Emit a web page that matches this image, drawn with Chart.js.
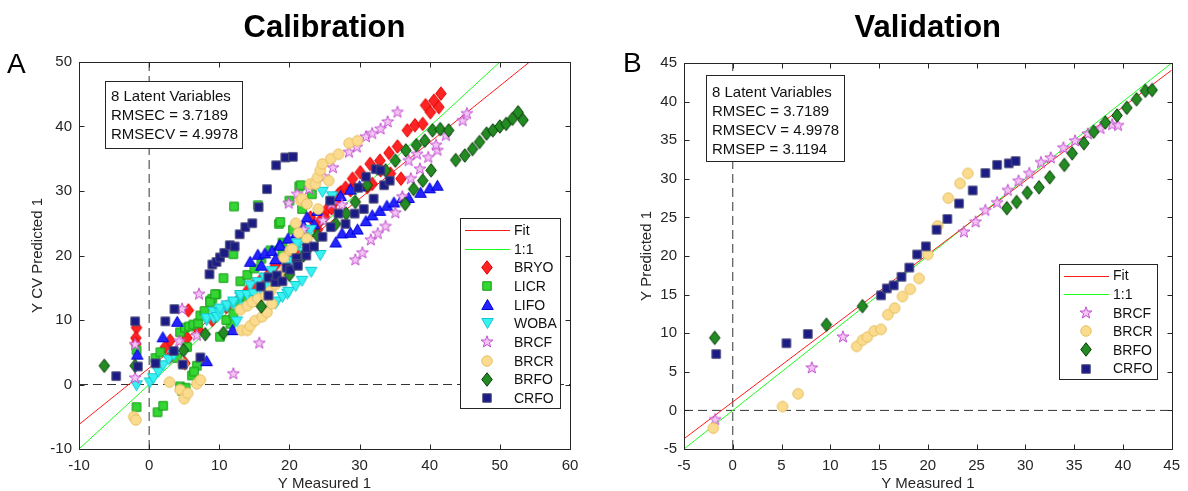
<!DOCTYPE html>
<html>
<head>
<meta charset="utf-8">
<script src="https://cdn.jsdelivr.net/npm/chart.js@4.4.0/dist/chart.umd.min.js"></script>
<style>
  html, body { margin: 0; padding: 0; background: #fff; overflow: hidden; }
  .panel { position: absolute; top: 0; width: 594px; height: 491px; }
  #panelA { left: 0; }
  #panelB { left: 594px; }
</style>
</head>
<body>
<div class="panel" id="panelA"><canvas id="calChart" width="594" height="491"></canvas></div>
<div class="panel" id="panelB"><canvas id="valChart" width="594" height="491"></canvas></div>
<script>
// ---- data: [measured, predicted] ----
const calBRYO = [[-1.8,8.8],[-1.9,7.2],[-1.9,6.3],[2.3,5.8],[3.0,6.8],[3.0,4.3],[5.6,11.5],[5.4,7.2],[5.1,3.3],
  [7,8.5],[9,10],[11,12],[13,13.5],[14,14.5],[15,15.5],[16,16.3],[17,17],[18,18.5],[19,19.5],[20,20.5],[21,21],
  [22,22.5],[23,25.9],[24,24],[24.4,25.4],[25,26],[25.4,27.2],[26,27.3],[26.6,28.5],[27.0,29.5],[27.3,29.8],[28,30.5],
  [28.7,30.1],[29.0,30.6],[29.0,31.9],[30.1,32.9],[31.1,30.6],[31.5,34.2],[31.8,31.1],[32.9,34.7],[33.0,33.2],
  [34.2,35.9],[34.4,32.7],[35.4,36.9],[35.9,31.9],[36.8,39.4],[37.9,40.2],[39.0,40.4],[39.4,43.3],[40.1,42.2],
  [40.6,44.0],[41.3,43.0],[41.6,45.1]];
const calLICR = [[-1.8,-3.5],[1.2,-4.3],[2.0,-3.3],[0.9,4.1],[1.6,5.0],[-1.8,5.3],[4.4,8.1],[5.1,8.8],[5.7,9.0],
  [6.3,9.3],[7.0,9.5],[7.3,10.7],[7.9,11.4],[8.7,13.0],[9.6,14.0],[10.6,16.5],[12.0,20.2],[5.4,5.8],[4.0,4.1],
  [6.8,2.9],[6.1,1.4],[6.4,2.0],[4.4,-0.3],[4.7,-1.0],[5.2,-0.5],[11.6,9.4],[10.1,7.4],[9.0,13.3],[8.7,12.8],
  [9.4,14.0],[12.1,27.6],[15.5,27.8],[18.5,24.9],[17.3,20.8],[19.0,20.5],[21.4,30.7],[20.5,24.0],[21.6,30.9],
  [23.2,29.5],[21.8,27.2],[20.0,28.5],[18.7,25.2],[13,16],[14,17],[15,18],[16,19.5],[11,10],[12,11],[13,12.5],
  [14,13],[19,22],[22,23]];
const calLIFO = [[-1.7,4.7],[1.95,7.4],[4.0,9.8],[8.2,3.7],[11.9,8.5],[14.4,19.1],[15.5,20.2],[16.5,20.4],
  [17.5,20.8],[18.6,21.7],[19.8,22.7],[21,23.5],[22.0,24.7],[23.5,24.9],[18.7,21.6],[26.6,22.1],[27.5,23.5],
  [28.7,23.6],[29.7,24.1],[30.9,25.4],[31.8,26.3],[32.9,27.0],[33.9,27.8],[34.9,28.3],[36.1,29.0],[37.0,29.0],
  [38.7,29.8],[40.0,30.5],[41.1,30.9],[27.3,29.3],[28.7,30.3],[30,30.8],[22.5,26],[24,27],[20,20.5],[16,18.5],[18,19.5]];
const calWOBA = [[-1.8,-0.2],[0.1,0.25],[0.6,0.9],[1.3,1.9],[2.0,2.9],[2.8,3.8],[3.5,4.5],[8.2,9.9],[8.2,10.2],
  [9.2,10.2],[9.2,11.2],[9.7,10.4],[10.1,11.0],[10.1,11.7],[11.1,12.0],[11.1,12.2],[12.0,12.5],[12.0,12.8],
  [12.5,9.7],[13.0,13.5],[13.0,13.8],[14.0,13.8],[14.4,15.3],[14.9,14.0],[15.5,15.8],[16.5,16.5],[17.5,17.5],
  [18.0,12.5],[18.2,12.8],[19.0,13.5],[19.7,14.0],[19.7,18.2],[19.9,14.3],[20.9,15.2],[21.8,16.0],[23.1,17.4],
  [24.4,20.0],[21.3,21.6],[21.1,21.8],[23.0,23.9],[24.7,29.8],[26.1,29.1],[20.5,19],[22,20.5],[16,14.5],[17,15],
  [15,13],[13.5,12]];
const calBRCF = [[-2.0,6.2],[-2.0,1.0],[4.7,11.7],[4.3,6.7],[6.8,7.6],[7.1,14.0],[12.0,1.65],[15.7,6.4],
  [19.9,28.1],[21.1,29.5],[22.8,30.3],[24.9,32.2],[26.2,33.6],[28.5,36.0],[29.6,36.8],[30.9,38.4],[31.8,38.9],
  [33.0,39.6],[34.0,40.7],[35.4,42.2],[24.8,25.4],[27.5,27.8],[29.4,19.3],[30.4,20.4],[31.6,22.4],[32.6,23.4],
  [33.7,24.5],[35.1,26.6],[36.1,29.1],[37.3,31.9],[38.6,33.4],[37.0,34.7],[38.2,35.7],[39.8,35.2],[41.1,36.3],
  [40.9,37.1],[42.3,38.6],[44.7,40.9],[45.3,42.0],[22,24],[26,28]];
const calBRCR = [[-2.2,-5.0],[-1.9,-5.5],[2.9,0.36],[4.4,-0.8],[5.0,-2.2],[5.5,-1.35],[4.8,3.2],[6.8,0.1],
  [7.3,0.7],[13.0,11.6],[14.0,12.2],[14.7,12.8],[15.5,13.3],[16.6,13.8],[13.2,8.4],[14.0,8.4],[14.4,9.1],
  [15.1,9.9],[16.1,10.5],[16.8,11.2],[17.3,14.5],[18,15.5],[19.4,17.7],[19.2,19.7],[20.1,20.8],[20.4,21.0],
  [20.9,25.0],[21.3,23.5],[22.5,22.6],[21.6,28.5],[21.8,28.8],[22.5,28.0],[23.0,31.1],[23.7,31.1],[24.0,32.1],
  [24.1,27.2],[24.4,33.2],[24.7,34.2],[25.6,31.6],[25.9,35.0],[27.0,35.7],[28.5,37.4],[29.7,37.8],[18.5,16.5],[17.5,12.5]];
const calBRFO = [[-6.4,2.9],[-2.0,2.9],[4.9,5.3],[8.0,7.8],[10.6,8.0],[16.0,12.1],[24.0,23.1],[26.6,24.9],
  [28.1,26.5],[29.4,28.3],[31.1,30.9],[33.7,33.2],[35.1,34.7],[36.6,36.3],[38.1,37.1],[39.3,37.8],[40.4,39.4],
  [41.5,39.6],[42.7,39.4],[36.5,28.0],[37.7,30.3],[39.0,31.6],[40.2,33.2],[43.7,34.8],[45.0,35.5],[46.1,36.5],
  [47.1,37.6],[48.1,38.9],[49.0,39.4],[50.0,40.0],[50.9,40.4],[51.8,41.2],[52.6,42.2],[53.3,41.0],[20,17],[22,20]];
const calCRFO = [[-2.0,9.8],[-4.7,1.3],[-1.6,2.8],[0.9,3.3],[2.3,9.8],[3.6,11.7],[3.5,5.2],[4.8,3.1],[7.3,4.2],
  [8.6,17.1],[9.0,18.6],[9.6,19.0],[10.1,19.7],[10.7,20.4],[11.5,21.6],[12.2,21.4],[12.9,23.3],[13.7,24.4],
  [14.7,25.0],[15.6,27.5],[16.8,30.3],[18.1,34.0],[19.4,35.2],[20.5,35.3],[15.9,15.2],[17.0,16.6],[17.0,13.8],
  [18.0,15.9],[18.2,16.9],[19.0,16.0],[19.6,18.1],[20.1,17.8],[21.0,19.6],[21.1,18.7],[21.2,18.4],[22.4,20.0],
  [22.5,21.2],[23.5,21.4],[24.7,22.9],[25.9,24.4],[25.8,28.5],[27.0,26.5],[28.0,24.9],[29.3,26.5],[29.8,30.5],
  [30.6,27.2],[30.9,32.2],[32.0,28.8],[32.3,33.4],[33.0,33.2],[33.5,30.9],[34.3,31.6]];

const valBRCF = [[-1.8,-1.2],[8.1,5.5],[11.3,9.5],[23.7,23.1],[24.9,24.4],[25.9,25.9],[27.1,26.9],[28.2,28.5],
  [29.3,29.7],[30.4,30.7],[31.6,32.1],[32.6,32.7],[33.9,34.0],[35.1,34.9],[36.4,35.8],[37.7,36.5],[38.9,37.0],[39.5,36.9]];
const valBRCR = [[-2.0,-2.3],[5.1,0.5],[6.7,2.15],[12.7,8.3],[13.3,9.1],[13.8,9.5],[14.5,10.3],[15.2,10.5],
  [15.9,12.4],[16.6,13.25],[17.4,14.75],[18.2,15.7],[19.1,17.1],[20.0,20.2],[21.0,23.9],[22.1,27.5],[23.3,29.4],[24.1,30.7]];
const valBRFO = [[-1.85,9.4],[9.6,11.1],[13.3,13.5],[28.1,26.2],[29.1,27.0],[30.2,28.2],[31.4,28.9],[32.5,30.2],
  [34.0,31.8],[34.8,33.3],[36.0,34.6],[37.0,36.1],[38.2,37.3],[39.4,38.2],[40.4,39.2],[41.4,40.3],[42.3,41.4],[43.0,41.5]];
const valCRFO = [[-1.7,7.3],[5.5,8.7],[7.7,9.9],[15.2,14.9],[15.8,15.8],[16.5,16.2],[17.3,17.3],[18.1,18.5],
  [18.9,20.2],[19.8,21.25],[20.9,23.4],[22.0,24.8],[23.2,26.8],[24.6,28.5],[25.9,30.75],[27.1,31.8],[28.3,32.0],[29.0,32.3]];

const calXTicks = [-10, 0, 10, 20, 30, 40, 50, 60];
const calYTicks = [-10, 0, 10, 20, 30, 40, 50];
const valXTicks = [-5, 0, 5, 10, 15, 20, 25, 30, 35, 40, 45];
const valYTicks = [-5, 0, 5, 10, 15, 20, 25, 30, 35, 40, 45];

const calFit = [0.875, 2.55];   // slope, intercept
const valFit = [0.955, 1.1];
const calStats = ['8 Latent Variables', 'RMSEC = 3.7189', 'RMSECV = 4.9978'];
const valStats = ['8 Latent Variables', 'RMSEC = 3.7189', 'RMSECV = 4.9978', 'RMSEP = 3.1194'];

// ---- styling ----
const FONT = '"Liberation Sans", Arial, Helvetica, sans-serif';
const INK = '#262626';
Chart.defaults.font.family = FONT;
Chart.defaults.color = INK;

const markerLook = {
  BRYO: { shape: 'diamond', fill: '#ff2424', stroke: '#e00000' },
  LICR: { shape: 'square', fill: '#33d633', stroke: '#169a16' },
  LIFO: { shape: 'triUp', fill: '#2424ff', stroke: '#0000d8' },
  WOBA: { shape: 'triDown', fill: '#38f2f2', stroke: '#10c8d0' },
  BRCF: { shape: 'star', fill: '#f4c4f4', stroke: '#c24fd0' },
  BRCR: { shape: 'circle', fill: '#fbdc8e', stroke: '#e6bf62' },
  BRFO: { shape: 'diamond', fill: '#228b22', stroke: '#0b3a0b' },
  CRFO: { shape: 'square', fill: '#1b1b86', stroke: '#4c4c78' }
};

function makeMarker(look) {
  const sizes = { diamond: [10.5, 13.5], square: [8.5, 8.5], triUp: [11.5, 10], triDown: [11.5, 10], circle: [10.5, 10.5], star: [12.5, 12.5] };
  const [w, h] = sizes[look.shape];
  const c = document.createElement('canvas');
  c.width = Math.ceil(w) + 3; c.height = Math.ceil(h) + 3;
  const g = c.getContext('2d');
  const cx = c.width / 2, cy = c.height / 2;
  g.beginPath();
  if (look.shape === 'diamond') {
    g.moveTo(cx, cy - h / 2); g.lineTo(cx + w / 2, cy); g.lineTo(cx, cy + h / 2); g.lineTo(cx - w / 2, cy);
  } else if (look.shape === 'square') {
    g.rect(cx - w / 2, cy - h / 2, w, h);
  } else if (look.shape === 'triUp') {
    g.moveTo(cx, cy - h / 2); g.lineTo(cx + w / 2, cy + h / 2); g.lineTo(cx - w / 2, cy + h / 2);
  } else if (look.shape === 'triDown') {
    g.moveTo(cx, cy + h / 2); g.lineTo(cx + w / 2, cy - h / 2); g.lineTo(cx - w / 2, cy - h / 2);
  } else if (look.shape === 'circle') {
    g.arc(cx, cy, w / 2, 0, Math.PI * 2);
  } else {
    for (let i = 0; i < 10; i++) {
      const r = i % 2 ? w * 0.2 : w / 2;
      const a = -Math.PI / 2 + i * Math.PI / 5;
      g.lineTo(cx + r * Math.cos(a), cy + r * Math.sin(a));
    }
  }
  g.closePath();
  g.fillStyle = look.fill; g.fill();
  g.lineWidth = 1; g.strokeStyle = look.stroke; g.stroke();
  return c;
}

const markers = {};
Object.keys(markerLook).forEach(k => { markers[k] = makeMarker(markerLook[k]); });

function pointSet(name, arr, order) {
  return {
    label: name,
    data: arr.map(p => ({ x: p[0], y: p[1] })),
    pointStyle: markers[name],
    pointRadius: 5,
    pointHoverRadius: 5,
    showLine: false,
    order: order
  };
}

function lineSet(label, data, color, dash) {
  return {
    label, data, showLine: true, borderColor: color, borderWidth: 1,
    borderDash: dash || [], pointRadius: 0, pointHoverRadius: 0, fill: false, order: 30
  };
}

// frame, inward ticks, title, stats box and legend
const panelPlugin = {
  id: 'panel',
  afterDraw(chart, args, o) {
    const { ctx, chartArea: a, scales } = chart;
    const L = Math.round(a.left) + 0.5, R = Math.round(a.right) + 0.5;
    const T = Math.round(a.top) + 0.5, B = Math.round(a.bottom) + 0.5;
    ctx.save();
    ctx.strokeStyle = INK; ctx.lineWidth = 1; ctx.setLineDash([]);
    ctx.strokeRect(L, T, R - L, B - T);
    ctx.beginPath();
    scales.x.ticks.forEach(t => {
      const px = Math.round(scales.x.getPixelForValue(t.value)) + 0.5;
      ctx.moveTo(px, B); ctx.lineTo(px, B - 5);
      ctx.moveTo(px, T); ctx.lineTo(px, T + 5);
    });
    scales.y.ticks.forEach(t => {
      const py = Math.round(scales.y.getPixelForValue(t.value)) + 0.5;
      ctx.moveTo(L, py); ctx.lineTo(L + 5, py);
      ctx.moveTo(R, py); ctx.lineTo(R - 5, py);
    });
    ctx.stroke();

    ctx.fillStyle = '#000';
    ctx.textBaseline = 'alphabetic';
    ctx.textAlign = 'center';
    ctx.font = 'bold 31px ' + FONT;
    ctx.fillText(o.title, (a.left + a.right) / 2, o.titleY);
    ctx.textAlign = 'left';
    ctx.font = '28px ' + FONT;
    ctx.fillText(o.letter, o.letterX, o.letterY);

    // stats box
    const s = o.statsBox;
    ctx.fillStyle = '#fff';
    ctx.fillRect(s.x, s.y, s.w, s.h);
    ctx.strokeStyle = INK;
    ctx.strokeRect(s.x + 0.5, s.y + 0.5, s.w, s.h);
    ctx.fillStyle = '#111';
    ctx.font = '15px ' + FONT;
    o.stats.forEach((line, i) => ctx.fillText(line, s.x + 6, s.firstBase + i * 19.2));

    // legend
    const g = o.legend;
    ctx.fillStyle = '#fff';
    ctx.fillRect(g.x, g.y, g.w, g.h);
    ctx.strokeRect(g.x + 0.5, g.y + 0.5, g.w, g.h);
    ctx.font = '14px ' + FONT;
    ctx.textBaseline = 'middle';
    g.items.forEach((it, i) => {
      const yy = g.firstY + i * g.step;
      if (it.color) {
        ctx.strokeStyle = it.color;
        ctx.beginPath();
        ctx.moveTo(g.x + 5, Math.round(yy) + 0.5); ctx.lineTo(g.x + 50, Math.round(yy) + 0.5);
        ctx.stroke();
      } else {
        const m = markers[it.name];
        ctx.drawImage(m, Math.round(g.x + 27 - m.width / 2), Math.round(yy - m.height / 2));
      }
      ctx.fillStyle = '#111';
      ctx.fillText(it.name, g.x + 54, yy + 1);
    });
    ctx.restore();
  }
};

function axis(ticks, title, size, titlePad, isX) {
  const cfg = {
    type: 'linear',
    min: ticks[0],
    max: ticks[ticks.length - 1],
    afterBuildTicks: sc => { sc.ticks = ticks.map(v => ({ value: v })); },
    ticks: { color: INK, padding: isX ? 8 : 7, font: { size: 15 } },
    grid: { display: false, drawTicks: false },
    border: { display: false },
    title: { display: true, text: title, color: INK, font: { size: 15, lineHeight: 1 }, padding: titlePad }
  };
  cfg.afterFit = isX ? (sc => { sc.height = 42; }) : (sc => { sc.width = size; });
  return cfg;
}

function buildPanel(id, opts) {
  const xs = opts.xTicks, ys = opts.yTicks;
  const x0 = xs[0], x1 = xs[xs.length - 1], y0 = ys[0], y1 = ys[ys.length - 1];
  const fit = opts.fit;
  const datasets = opts.series.map((s, i) => pointSet(s[0], s[1], opts.series.length - i));
  datasets.push(lineSet('Fit', [{ x: x0, y: fit[0] * x0 + fit[1] }, { x: x1, y: fit[0] * x1 + fit[1] }], '#ff1a1a'));
  datasets.push(lineSet('1:1', [{ x: x0, y: x0 }, { x: x1, y: x1 }], '#1aff1a'));
  datasets.push(lineSet('zx', [{ x: 0, y: y0 }, { x: 0, y: y1 }], '#333', [9, 5]));
  datasets.push(lineSet('zy', [{ x: x0, y: 0 }, { x: x1, y: 0 }], '#333', [9, 5]));

  return new Chart(document.getElementById(id), {
    type: 'scatter',
    data: { datasets },
    plugins: [panelPlugin],
    options: {
      responsive: false,
      animation: false,
      events: [],
      layout: { padding: { left: 0, top: opts.top, right: opts.right, bottom: 0 } },
      plugins: {
        legend: { display: false },
        tooltip: { enabled: false },
        panel: opts.panel
      },
      scales: {
        x: axis(xs, 'Y Measured 1', 0, { top: 0, bottom: 0 }, true),
        y: axis(ys, opts.yTitle, opts.yWidth, { top: opts.yTitlePad, bottom: 0 }, false)
      }
    }
  });
}

buildPanel('calChart', {
  xTicks: calXTicks, yTicks: calYTicks, fit: calFit,
  series: [['BRYO', calBRYO], ['LICR', calLICR], ['LIFO', calLIFO], ['WOBA', calWOBA],
           ['BRCF', calBRCF], ['BRCR', calBRCR], ['BRFO', calBRFO], ['CRFO', calCRFO]],
  top: 62, right: 24, yWidth: 79, yTitle: 'Y CV Predicted 1', yTitlePad: 30,
  panel: {
    title: 'Calibration', titleY: 37, letter: 'A', letterX: 7, letterY: 73,
    stats: calStats,
    statsBox: { x: 105, y: 81, w: 137, h: 67, firstBase: 101 },
    legend: {
      x: 460, y: 218, w: 100, h: 190, firstY: 230, step: 18.7,
      items: [{ name: 'Fit', color: '#ff1a1a' }, { name: '1:1', color: '#1aff1a' },
        { name: 'BRYO' }, { name: 'LICR' }, { name: 'LIFO' }, { name: 'WOBA' },
        { name: 'BRCF' }, { name: 'BRCR' }, { name: 'BRFO' }, { name: 'CRFO' }]
    }
  }
});

buildPanel('valChart', {
  xTicks: valXTicks, yTicks: valYTicks, fit: valFit,
  series: [['BRCF', valBRCF], ['BRCR', valBRCR], ['BRFO', valBRFO], ['CRFO', valCRFO]],
  top: 63, right: 12, yWidth: 90, yTitle: 'Y Predicted 1', yTitlePad: 45,
  panel: {
    title: 'Validation', titleY: 37, letter: 'B', letterX: 29, letterY: 72,
    stats: valStats,
    statsBox: { x: 112, y: 75, w: 138, h: 86, firstBase: 96.5 },
    legend: {
      x: 465, y: 264, w: 98, h: 115, firstY: 275.5, step: 18.6,
      items: [{ name: 'Fit', color: '#ff1a1a' }, { name: '1:1', color: '#1aff1a' },
        { name: 'BRCF' }, { name: 'BRCR' }, { name: 'BRFO' }, { name: 'CRFO' }]
    }
  }
});
</script>
</body>
</html>
